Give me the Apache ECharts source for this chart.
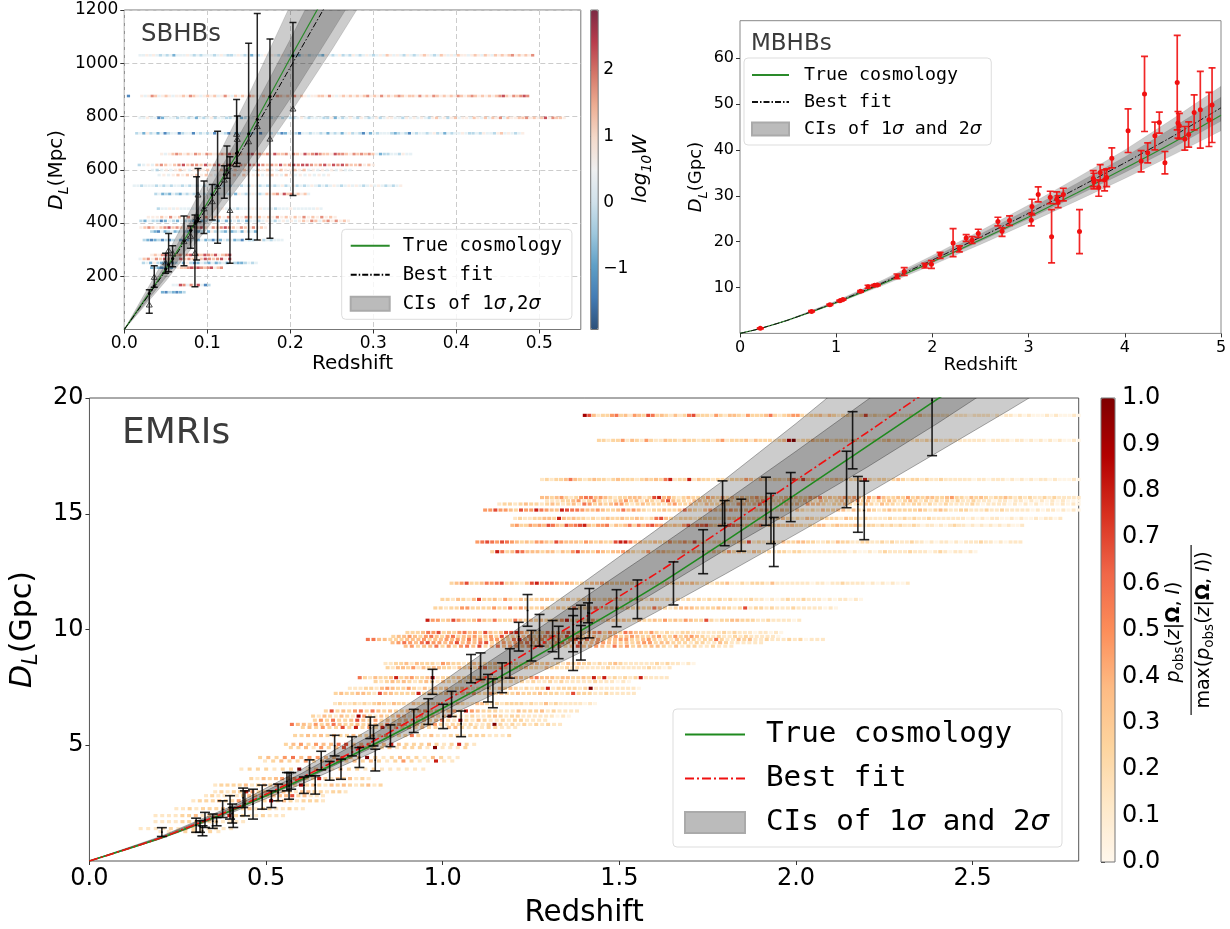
<!DOCTYPE html>
<html>
<head>
<meta charset="utf-8">
<title>Hubble diagrams</title>
<script src="https://cdn.jsdelivr.net/npm/echarts@6/dist/echarts.min.js"></script>
<style>
  html, body { margin: 0; padding: 0; background: #fff; }
  #chart { width: 1230px; height: 929px; }
</style>
</head>
<body>
<div id="chart"></div>
<script>
// ---- tick labels
const sbXTicks = [0, 0.1, 0.2, 0.3, 0.4, 0.5];
const sbYTicks = [200, 400, 600, 800, 1000, 1200];
const sbBarTicks = [-1, 0, 1, 2];
const mbXTicks = [0, 1, 2, 3, 4, 5];
const mbYTicks = [10, 20, 30, 40, 50, 60];
const emXTicks = [0, 0.5, 1, 1.5, 2, 2.5];
const emYTicks = [5, 10, 15, 20];
const emBarTicks = [0, 0.1, 0.2, 0.3, 0.4, 0.5, 0.6, 0.7, 0.8, 0.9, 1];

// ---- SBHBs cosmology curves (Mpc)
const sbCurveZ = [0, 0.05, 0.1, 0.15, 0.2, 0.25, 0.3];
const sbTrue = [0, 228, 475, 735, 1020, 1300, 1600];
const sbBest = [0, 222, 461, 715, 985, 1258, 1550];
const sbHi2 = [0, 274, 570, 882, 1218, 1560, 1900];
const sbHi1 = [0, 246, 513, 794, 1090, 1400, 1720];
const sbLo1 = [0, 196, 408, 632, 868, 1117, 1370];
const sbLo2 = [0, 182, 380, 588, 812, 1050, 1300];

// ---- SBHBs events
const sbZ = [0.0301, 0.0361, 0.0498, 0.0534, 0.0582, 0.0719, 0.0799, 0.0851, 0.0871, 0.0888, 0.096, 0.106, 0.1124, 0.1205, 0.1237, 0.1273, 0.1353, 0.1361, 0.1498, 0.1602, 0.1755, 0.2032];
const sbMid = [135, 163, 227, 244, 267, 334, 373, 400, 410, 418, 456, 506, 540, 582, 600, 618, 662, 666, 735, 790, 875, 1028];
const sbObs = [92, 196, 250, 296, 285, 330, 350, 286, 420, 505, 453, 480, 537, 561, 593, 447, 733, 714, 705, 762, 715, 828];
const sbLow = [61, 159, 211, 217, 236, 239, 305, 161, 261, 405, 361, 411, 324, 493, 568, 249, 612, 624, 339, 336, 343, 503];
const sbHigh = [149, 239, 286, 361, 315, 426, 389, 430, 574, 605, 558, 545, 745, 615, 689, 649, 864, 802, 1075, 1187, 1091, 1153];

// ---- SBHBs host candidates, one row per event: D_L, z range, weights along the row
const sbRowD = [1030, 877, 795, 737, 659, 618, 599, 580, 540, 509, 454, 422, 408, 383, 368, 336, 280, 265, 250, 232, 167, 140];
const sbRowZ0 = [0.019, 0.021, 0.019, 0.015, 0.045, 0.018, 0.034, 0.042, 0.012, 0.038, 0.041, 0.029, 0.02, 0.02, 0.033, 0.024, 0.033, 0.019, 0.023, 0.033, 0.059, 0.046];
const sbRowZ1 = [0.492, 0.486, 0.53, 0.48, 0.345, 0.3, 0.272, 0.246, 0.333, 0.222, 0.237, 0.254, 0.27, 0.17, 0.158, 0.19, 0.127, 0.127, 0.159, 0.117, 0.102, 0.072];
const sbRowW = [
  '4454543434 2444543434 4434543345 4342434545 4354343245 3443254345 3435434543 4546545435 4345654346 5454655456 5465465656 7565657',
  '5457645654 5565765456 5645754656 5765465657 6565756545 5665754565 6565675657 5656765665 7565765656 5765676565 6567865767 87',
  '4454412444 3443424345 3443344234 4544434434 3345434443 3524345435 4345345544 3545454356 4535645546 5464657465 5667565685 7665',
  '3425342413 4413441434 3414431423 4423414434 3124431443 4434243424 5343142434 4432343143 4434534243 4454334354 4356454345',
  '5456765657 6576567686 7657867675 8667576586 7876658776 5767676423 3443544',
  '3454676567 8677686786 8767687876 7686787887 6786878766 7565',
  '4345456545 6564565465 6546565465 5656454545 4544',
  '4545656565 6545656465 5645654654 5454545',
  '4434443434 3443434343 4434343443 4354343434 5345343454 3434543454 5434545434 345',
  '3423243243 4324342434 4342543454 3465675867 56564',
  '3445454444 4434454544 4344454544 4344454444 4454',
  '5556575657 5657566575 6576565657 5656575657 565',
  '3243312432 4332423432 4234342443 4543454545 6576467575 65',
  '5676567867 6576786576 7876576575 65',
  '3214234234 3243234253 4324234253 42',
  '3212313134 2124324231 3243423143 3453434 44',
  '5657865675 7867687685 678',
  '4675768675 8676568767 858',
  '3425321423 4253124324 2342532234 34',
  '2321232456 6787876785 67',
  '4487475841 3',
  '2132123'
];

// ---- MBHBs cosmology curves (Gpc)
const mbCurveZ = [0, 0.2, 0.5, 1, 1.5, 2, 2.5, 3, 3.5, 4, 4.5, 5];
const mbTrue = [0, 1, 2.9, 6.7, 11, 15.6, 20.4, 25.4, 30.6, 36, 41.6, 47.6];
const mbBest = [0, 1, 2.9, 6.8, 11.2, 16, 21, 26.2, 31.6, 37.2, 43, 49.2];
const mbHi2 = [0, 1, 3, 7.1, 11.8, 17, 22.4, 28, 33.9, 40, 46.8, 53.9];
const mbHi1 = [0, 1, 2.95, 6.95, 11.5, 16.5, 21.7, 27.1, 32.7, 38.5, 44.9, 51.5];
const mbLo1 = [0, 1, 2.9, 6.65, 10.9, 15.4, 20.1, 25, 30, 35.1, 40.5, 46.3];
const mbLo2 = [0, 0.95, 2.8, 6.5, 10.6, 14.9, 19.4, 24.1, 28.9, 33.8, 38.9, 44.2];

// ---- MBHBs events
const mbZ = [0.211, 0.744, 0.934, 1.038, 1.07, 1.253, 1.331, 1.399, 1.428, 1.632, 1.707, 1.922, 1.99, 2.08, 2.215, 2.28, 2.351, 2.412, 2.477, 2.681, 2.724, 2.802, 3.028, 3.035, 3.1, 3.225, 3.239, 3.293, 3.307, 3.361, 3.529, 3.672, 3.679, 3.729, 3.744, 3.79, 3.812, 3.865, 4.034, 4.17, 4.205, 4.238, 4.313, 4.359, 4.417, 4.545, 4.553, 4.567, 4.624, 4.664, 4.721, 4.785, 4.875, 4.907];
const mbMid = [1.1, 4.8, 6.26, 7.1, 7.4, 9.2, 10.2, 10.5, 10.55, 12.4, 13.5, 14.8, 15.1, 17.2, 19.7, 18.5, 20.8, 20.3, 21.8, 24.4, 22.3, 24.6, 24.7, 27.7, 30.3, 29.7, 21.1, 29.3, 28.7, 30.3, 22.2, 33.8, 33.1, 31.8, 35.1, 33.5, 34, 38.2, 44.2, 37.6, 52.2, 39.4, 43.1, 46, 37.2, 54.7, 45.9, 45.3, 42.4, 43.4, 48.2, 48.8, 46.6, 49.8];
const mbLow = [1, 4.7, 6.1, 7, 7.25, 9, 9.85, 10.3, 10.4, 11.94, 12.66, 14.26, 14.19, 16.38, 16.74, 17.76, 20.09, 19.65, 20.96, 23.44, 21.18, 23.58, 23.44, 25.84, 28.68, 28.31, 15.36, 28.24, 27.44, 28.89, 17.39, 32.02, 31.51, 29.91, 33.26, 31.08, 32.02, 36.1, 39.45, 35.23, 44.03, 37.19, 40.03, 43.67, 34.79, 44.4, 42.58, 42.4, 39.96, 40.61, 44.4, 40.39, 40.76, 41.63];
const mbHigh = [1.2, 4.95, 6.4, 7.25, 7.55, 9.35, 10.5, 10.65, 10.7, 12.95, 14.34, 15.28, 15.87, 17.69, 22.85, 19.07, 21.54, 21.11, 22.71, 25.33, 23, 25.62, 26.2, 29.26, 31.95, 31, 27, 30.86, 29.99, 31.66, 27, 35.52, 34.93, 33.48, 36.83, 35.66, 35.88, 40.47, 48.98, 39.88, 60.41, 41.56, 46.07, 48.25, 39.67, 64.99, 48.4, 48, 45.12, 46.14, 52.04, 57.13, 52.55, 57.93];

// ---- EMRIs cosmology curves (Gpc)
const emCurveZ = [0, 0.2, 0.4, 0.6, 0.8, 1, 1.2, 1.4, 1.6, 1.8, 2, 2.2, 2.4, 2.6, 2.8];
const emTrue = [0, 0.98, 2.17, 3.52, 5, 6.6, 8.28, 10.03, 11.84, 13.82, 15.85, 17.9, 19.95, 22, 24.1];
const emBest = [0, 0.99, 2.2, 3.6, 5.15, 6.85, 8.65, 10.5, 12.38, 14.4, 16.45, 18.5, 20.6, 22.7, 24.9];
const emHi2 = [0, 1.05, 2.35, 3.95, 5.75, 7.75, 9.9, 12.05, 14.25, 16.5, 18.9, 21.4, 23.9, 26.4, 29];
const emHi1 = [0, 1.02, 2.28, 3.78, 5.45, 7.3, 9.3, 11.38, 13.44, 15.55, 17.7, 19.9, 22.1, 24.3, 26.6];
const emLo1 = [0, 0.97, 2.13, 3.45, 4.9, 6.45, 8.08, 9.8, 11.6, 13.45, 15.2, 17, 18.9, 20.9, 23];
const emLo2 = [0, 0.95, 2.07, 3.32, 4.68, 6.15, 7.6, 9.08, 10.72, 12.4, 14.12, 15.86, 17.65, 19.45, 21.3];

// ---- EMRIs events
const emZ = [0.205, 0.302, 0.313, 0.32, 0.327, 0.349, 0.36, 0.377, 0.398, 0.404, 0.407, 0.435, 0.44, 0.463, 0.489, 0.515, 0.534, 0.559, 0.565, 0.571, 0.607, 0.623, 0.639, 0.656, 0.68, 0.694, 0.712, 0.743, 0.764, 0.795, 0.804, 0.809, 0.852, 0.918, 0.959, 0.971, 1.001, 1.025, 1.052, 1.08, 1.107, 1.128, 1.142, 1.168, 1.19, 1.215, 1.24, 1.251, 1.274, 1.311, 1.328, 1.369, 1.369, 1.391, 1.391, 1.411, 1.415, 1.492, 1.551, 1.653, 1.737, 1.792, 1.798, 1.845, 1.915, 1.929, 1.937, 1.985, 2.143, 2.16, 2.175, 2.193, 2.385];
const emLow = [1.06, 1.24, 1.24, 1.09, 1.45, 1.41, 1.52, 1.88, 1.81, 1.64, 1.45, 2.31, 1.95, 1.81, 2.24, 2.31, 2.6, 3.03, 2.67, 3.1, 2.92, 3.68, 2.89, 3.94, 3.49, 4.54, 3.53, 4.54, 4.04, 5.29, 4.97, 3.89, 4.94, 5.55, 5.9, 7.2, 5.72, 6.24, 5.37, 7.7, 7.84, 6.87, 6.62, 7.27, 7.9, 9.07, 10.14, 8.64, 9.28, 9.04, 8.74, 9.04, 8.23, 9.61, 8.68, 10.29, 9.64, 10.12, 10.47, 11.06, 12.41, 14.48, 13.62, 13.38, 14.5, 13.71, 12.72, 14.66, 15.26, 16.94, 14.2, 13.88, 17.51];
const emHigh = [1.44, 1.85, 1.74, 1.52, 2.1, 2.03, 1.88, 2.6, 2.82, 2.46, 2.31, 3.15, 3.03, 3.1, 3.28, 3.03, 3.32, 3.82, 3.82, 3.82, 3.63, 4.37, 3.68, 4.74, 4.3, 5.43, 4.4, 5.37, 4.9, 6.22, 5.86, 4.83, 5.88, 6.55, 7.01, 8.28, 6.77, 7.33, 6.48, 8.92, 8.99, 8.06, 7.87, 8.56, 9.17, 10.31, 11.51, 9.96, 10.65, 10.39, 10.14, 10.89, 10.6, 11.05, 10.17, 11.15, 11.77, 11.72, 12.14, 12.92, 14.31, 16.42, 15.57, 15.63, 16.58, 15.88, 14.84, 16.78, 17.7, 19.41, 16.61, 16.41, 22.3];

// ---- EMRIs host candidates
const emRowD = [19.25, 18.17, 16.48, 15.7, 15.56, 15.42, 15.16, 14.8, 14.5, 13.78, 13.36, 12, 11.3, 10.93, 10.4, 9.87, 9.7, 9.57, 9.43, 9.28, 8.53, 8.35, 7.92, 7.75, 7.46, 7.24, 6.8, 6.48, 6.26, 6.08, 5.9, 5.77, 5.42, 5.04, 4.9, 4.47, 4.32, 3.97, 3.56, 3.28, 2.99, 2.82, 2.6, 2.26, 1.96, 1.7, 1.4, 1.27];
const emRowZ0 = [1.402, 1.442, 1.281, 1.281, 1.295, 1.16, 1.12, 1.205, 1.197, 1.098, 1.14, 1.025, 0.999, 0.979, 0.957, 0.9, 0.86, 0.788, 0.858, 0.895, 0.838, 0.844, 0.765, 0.81, 0.737, 0.697, 0.695, 0.669, 0.633, 0.638, 0.573, 0.604, 0.582, 0.556, 0.57, 0.483, 0.497, 0.43, 0.458, 0.356, 0.356, 0.33, 0.294, 0.246, 0.187, 0.187, 0.145, 0.201];
const emRowZ1 = [2.8, 2.8, 2.8, 2.8, 2.8, 2.8, 2.8, 2.748, 2.64, 2.635, 2.508, 2.316, 2.184, 2.113, 2.009, 1.958, 1.95, 2.076, 1.901, 1.817, 1.71, 1.642, 1.634, 1.527, 1.555, 1.541, 1.431, 1.38, 1.357, 1.29, 1.332, 1.205, 1.188, 1.089, 1.064, 1.042, 1.027, 0.945, 0.79, 0.824, 0.725, 0.661, 0.661, 0.604, 0.548, 0.435, 0.401, 0.365];
const emRowW = [
  '8631224523 1432652321 3125622214 2133214222 3521234421 2231321221 1261211211 1121311111 1011101111 0101101010 0010100010',
  '2212241321 4211322132 2122134122 2313222123 8912232231 2221312121 2312211212 1211211111 1101111011 0101010100 10',
  '1212235321 2322123222 1232325712 2713221221 2224313212 2136262321 2232122372 1221232122 1211211111 1011011101 0101011010 0010',
  '3323421245 5343212233 3126734212 3222432423 2323423312 3432243523 2343432425 3223242323 3223422132 3212232121 2112121111 1',
  '1112234124 2112342313 2146322133 2212321232 3412232123 2132123234 2312232123 2121212121 1211101101 1010101010 00',
  '1221232212 3212315423 2344212322 2134223213 2232143235 3212323143 3212232123 2132212122 1211211112 1011110101 0100101010',
  '4464432644 7543376554 3343223534 3212232235 3213432343 2322342132 1321213223 3132132123 2222232123 2112211121 1211111010 1101010',
  '1211223327 3232212123 2232232125 6321222122 2211322222 2211232121 3212222132 2121111211 2121121111 1110101011 0010100101 101',
  '3422434365 3264567324 4513235253 5644323246 3556324265 4232351323 2332212233 1232223212 2121212112 1011010121 1010101010 1001',
  '4565465432 3244326433 3243232267 7533223224 2342622122 2223261211 2132233221 1213221122 1121211121 1010110101 1121101011 1',
  '2752365333 2331324633 2432334321 2413322142 3312322423 2132121221 2211111111 1010010121 1112111012 1011010 ',
  '2346223545 6232136745 5434322233 4322232211 2223223232 1212231121 2221311111 1101101121 1110101010 01',
  '2213213622 3142132223 3212312232 1232213221 3212121212 1212121112 1101012112 1110101 1010',
  '2212244222 2422524322 3213225223 5233423232 2532123332 2223221261 2212111211 1110 10',
  '7442364323 5325222532 3232224722 2242133232 1322324232 4322621223 3222112111 101',
  '2223546232 4534263236 6743322533 4633234524 3254332421 2112211111 1212111011 010',
  '2334324532 4523342342 6322342344 3263423312 3423432234 2242343211 2112121111 10',
  '5533222333 4233434353 4244325734 3423424635 3423344223 4212132321 2252113231 1211121201 11',
  '3454356443 4634356234 3445335245 3362344332 3234423322 2122113211 1111',
  '3423352424 5362353443 4352442363 3432534232 3321312211 2111',
  '1122313222 1432212322 2322321233 2312132322 1212321111 1121211010',
  '2133241323 3221323245 2232132322 1322121211 1112111111 121101',
  '5213223723 4223812223 2232432224 3324533323 3223272712 1212711111',
  '2123232123 2132121212 2321212121 1212111112 111010',
  '1112213432 2421313231 2321212132 3212122712 2221291111 11110',
  '2322332163 3222272322 3322442242 3223222322 2126222112 11111',
  '1211212123 2132213222 2312132113 3212122221 2113121111 1010',
  '2623245253 2322333423 3342743222 1113222312 1111',
  '2132132184 2132243123 2323921121 1232122111 111010',
  '2425223632 4232232332 3521821321 1212211 11',
  '5332423532 2323325243 2323421221 2112921212 1212 11',
  '2324226272 4272324232 2133212122 111',
  '2232323223 2232422252 1311221222 1112 ',
  '2342433563 3423732223 2127 21',
  '2231423626 3223122219 1112',
  '2324534433 5339212322 1321 1',
  '1232242325 2323212421 1711',
  '1222122912 2132212111 111',
  '2132343432 2721323121',
  '1222231232 4232823213 2321 2312',
  '1212274232 3321332212 21',
  '1211112332 2333623 111',
  '1222322432 1282321222 1',
  '1121222321 2312211211',
  '1111223121 1722112111',
  '1111222122 1111',
  '1111212211 111',
  '1112212 1'
];

// ---- decoding of the single-digit weights
const sbWeight = d => -1.9 + d * 0.53;
const emWeight = d => d / 9 + 0.02;

const SANS = '"DejaVu Sans"';
const MONO = '"DejaVu Sans Mono"';

function rowsToPoints(rowD, rowZ0, rowZ1, rowW, decode) {
  const pts = [];
  rowD.forEach(function (d, r) {
    const w = rowW[r].replace(/\s/g, '');
    w.split('').forEach(function (c, i) {
      pts.push([rowZ0[r] + (rowZ1[r] - rowZ0[r]) * i / (w.length - 1), d, decode(+c)]);
    });
  });
  return pts;
}

function curve(name, ax, zs, ds, color, width, dash) {
  return {
    name: name, type: 'line', xAxisIndex: ax, yAxisIndex: ax, z: 3,
    showSymbol: false, symbol: 'none', smooth: 0.2, silent: true, clip: true,
    lineStyle: { color: color, width: width, type: dash || 'solid' },
    itemStyle: { color: color },
    data: zs.map((z, i) => [z, ds[i]])
  };
}

// confidence band as one polygon, placed through the axes
function band(name, ax, zs, lo, hi, edge) {
  const rows = zs.map((z, i) => [z, lo[i], hi[i]]);
  return {
    name: name, type: 'custom', xAxisIndex: ax, yAxisIndex: ax, z: 2, clip: true, silent: true,
    encode: { x: 0, y: [1, 2] },
    itemStyle: { color: '#bbb', borderColor: '#aaa', borderWidth: 1 },
    data: rows,
    renderItem: function (params, api) {
      if (params.dataIndex !== 0) return null;
      const top = rows.map(r => api.coord([r[0], r[2]]));
      const bottom = rows.map(r => api.coord([r[0], r[1]])).reverse();
      return {
        type: 'polygon',
        shape: { points: top.concat(bottom) },
        style: { fill: 'rgba(0,0,0,0.2)', stroke: 'rgba(0,0,0,' + edge + ')', lineWidth: 1 }
      };
    }
  };
}

function errorBars(ax, zs, low, high, mid, obs, opt) {
  return {
    type: 'custom', xAxisIndex: ax, yAxisIndex: ax, z: 4, clip: true, silent: true,
    encode: { x: 0, y: [1, 2] },
    data: zs.map((z, i) => [z, low[i], high[i], mid ? mid[i] : (low[i] + high[i]) / 2, obs ? obs[i] : NaN]),
    renderItem: function (params, api) {
      const z = api.value(0);
      const a = api.coord([z, api.value(1)]);
      const b = api.coord([z, api.value(2)]);
      const m = api.coord([z, api.value(3)]);
      const line = { stroke: opt.color, lineWidth: opt.width, opacity: opt.alpha };
      const kids = [
        { type: 'line', shape: { x1: a[0], y1: a[1], x2: b[0], y2: b[1] }, style: line },
        { type: 'line', shape: { x1: a[0] - opt.cap, y1: a[1], x2: a[0] + opt.cap, y2: a[1] }, style: line },
        { type: 'line', shape: { x1: b[0] - opt.cap, y1: b[1], x2: b[0] + opt.cap, y2: b[1] }, style: line },
        { type: 'circle', shape: { cx: m[0], cy: m[1], r: opt.dot }, style: { fill: opt.color } }
      ];
      const v = api.value(4);
      if (!isNaN(v)) {
        const t = api.coord([z, v]);
        kids.push({
          type: 'polygon',
          shape: { points: [[t[0], t[1] - 3], [t[0] - 3, t[1] + 2], [t[0] + 3, t[1] + 2]] },
          style: { fill: 'none', stroke: '#222', lineWidth: 0.8 }
        });
      }
      return { type: 'group', children: kids };
    }
  };
}

function strips(ax, pts, w, h) {
  return {
    type: 'scatter', xAxisIndex: ax, yAxisIndex: ax, z: 1, silent: true,
    symbol: 'rect', symbolSize: [w, h], data: pts,
    encode: { x: 0, y: 1 }, itemStyle: { opacity: 1 }
  };
}

function xAxis(i, min, max, ticks, digits, size, gapName, nameSize) {
  return {
    gridIndex: i, type: 'value', min: min, max: max,
    name: 'Redshift', nameLocation: 'middle', nameGap: gapName,
    nameTextStyle: { fontFamily: SANS, fontSize: nameSize, color: '#000' },
    axisLine: { show: false },
    axisTick: { length: 4, customValues: ticks, lineStyle: { color: '#333' } },
    axisLabel: {
      customValues: ticks, fontFamily: SANS, fontSize: size, color: '#000', margin: 6,
      hideOverlap: false, formatter: v => v.toFixed(digits)
    },
    splitLine: { show: false }
  };
}

function yAxis(i, min, max, ticks, size, name, gapName, fonts) {
  return {
    gridIndex: i, type: 'value', min: min, max: max,
    name: name, nameLocation: 'middle', nameGap: gapName, nameRotate: 90,
    nameTextStyle: {
      rich: {
        d: { fontFamily: SANS, fontStyle: 'italic', color: '#000', fontSize: fonts[0], lineHeight: fonts[0] + 8 },
        l: { fontFamily: SANS, fontStyle: 'italic', color: '#000', fontSize: fonts[1], lineHeight: fonts[1] + 2, verticalAlign: 'bottom' },
        n: { fontFamily: SANS, color: '#000', fontSize: fonts[0], lineHeight: fonts[0] + 8 }
      }
    },
    axisLine: { show: false },
    axisTick: { length: 4, customValues: ticks, lineStyle: { color: '#333' } },
    axisLabel: { customValues: ticks, fontFamily: SANS, fontSize: size, color: '#000', margin: 6, formatter: v => String(v) },
    splitLine: { show: false }
  };
}

function legendBox(names, left, top, font, itemW, itemH, gap, pad, textPad) {
  return {
    show: true, orient: 'vertical', left: left, top: top, padding: pad, itemGap: gap,
    itemWidth: itemW, itemHeight: itemH, selectedMode: false,
    backgroundColor: 'rgba(255,255,255,0.8)', borderColor: '#ddd', borderWidth: 1, borderRadius: 4,
    data: [
      { name: names[0], itemStyle: { opacity: 0 } },
      { name: names[1], itemStyle: { opacity: 0 } },
      { name: names[2], icon: 'rect' }
    ],
    formatter: function (n) {
      const label = n.split('|')[1];
      return label.split('σ').map(p => '{m|' + p + '}').join('{s|σ}');
    },
    textStyle: {
      rich: {
        m: { fontFamily: MONO, fontSize: font, color: '#000' },
        s: { fontFamily: SANS, fontStyle: 'italic', fontSize: font, color: '#000' }
      },
      padding: [0, 0, 0, textPad]
    }
  };
}

const SB = 'S|', MB = 'M|', EM = 'E|';
const sbPts = rowsToPoints(sbRowD, sbRowZ0, sbRowZ1, sbRowW, sbWeight);
sbPts.push([0.005, 877, sbWeight(1)]);
const emPts = rowsToPoints(emRowD, emRowZ0, emRowZ1, emRowW, emWeight);

const option = {
  animation: false,
  backgroundColor: '#fff',
  grid: [
    { left: 124.3, top: 10, width: 456.5, height: 319.5, show: true, borderColor: '#777', borderWidth: 1, backgroundColor: 'transparent' },
    { left: 740, top: 20.7, width: 481, height: 312.7, show: true, borderColor: '#888', borderWidth: 1, backgroundColor: 'transparent' },
    { left: 85.7, top: 398, width: 993, height: 464, show: true, borderColor: '#555', borderWidth: 1, backgroundColor: 'transparent' },
    { left: 590.7, top: 10, width: 7.5, height: 319.5, show: true, borderColor: '#777', borderWidth: 1, backgroundColor: 'transparent', z: 6 },
    { left: 1101, top: 398, width: 14, height: 464, show: true, borderColor: '#777', borderWidth: 1, backgroundColor: 'transparent', z: 6 }
  ],
  xAxis: [
    Object.assign(xAxis(0, 0, 0.55, sbXTicks, 1, 17, 19, 20), {
      splitLine: { show: true, lineStyle: { color: '#ccc', type: [5, 3], width: 1 } }
    }),
    xAxis(1, 0, 5, mbXTicks, 0, 16, 19, 18.2),
    xAxis(2, 0, 2.8, emXTicks, 1, 24, 38, 29.4),
    { gridIndex: 3, type: 'value', show: false, min: 0, max: 1 },
    { gridIndex: 4, type: 'value', show: false, min: 0, max: 1 }
  ],
  yAxis: [
    Object.assign(yAxis(0, 0, 1200, sbYTicks, 17, '{d|D}{l|L}{n|(Mpc)}', 40, [20, 14]), {
      splitLine: { show: true, lineStyle: { color: '#ccc', type: [5, 3], width: 1 } }
    }),
    yAxis(1, 0, 68.2, mbYTicks, 16, '{d|D}{l|L}{n|(Gpc)}', 16, [18, 13]),
    yAxis(2, 0, 20, emYTicks, 24, '{d|D}{l|L}{n|(Gpc)}', 43, [30, 21]),
    {
      gridIndex: 3, type: 'value', position: 'right', min: -1.91, max: 2.9,
      axisLine: { show: false }, splitLine: { show: false },
      axisTick: { length: 3, customValues: sbBarTicks, lineStyle: { color: '#333' } },
      axisLabel: {
        customValues: sbBarTicks, fontFamily: SANS, fontSize: 17, color: '#000', margin: 5,
        formatter: v => (v < 0 ? '\u2212' + Math.abs(v) : '' + v)
      }
    },
    {
      gridIndex: 4, type: 'value', position: 'right', min: 0, max: 1,
      axisLine: { show: false }, splitLine: { show: false },
      axisTick: { length: 4, customValues: emBarTicks, lineStyle: { color: '#333' } },
      axisLabel: {
        customValues: emBarTicks, fontFamily: SANS, fontSize: 24, color: '#000', margin: 7,
        formatter: v => v.toFixed(1)
      }
    }
  ],
  visualMap: [
    {
      type: 'continuous', seriesIndex: 0, dimension: 2, min: -1.91, max: 2.9, calculable: false,
      left: 590.7, top: 10, itemWidth: 7.5, itemHeight: 319.5, padding: 0, text: null, showLabel: false, hoverLink: false, z: 1,
      inRange: { color: ['rgba(5,48,97,.8)', 'rgba(33,102,172,.8)', 'rgba(67,147,195,.8)', 'rgba(146,197,222,.8)', 'rgba(209,229,240,.8)', 'rgba(247,247,247,.8)', 'rgba(253,219,199,.8)', 'rgba(244,165,130,.8)', 'rgba(214,96,77,.8)', 'rgba(178,24,43,.8)', 'rgba(103,0,31,.8)'] }
    },
    {
      type: 'continuous', seriesIndex: 1, dimension: 2, min: 0, max: 1, calculable: false,
      left: 1101, top: 398, itemWidth: 14, itemHeight: 464, padding: 0, text: null, showLabel: false, hoverLink: false, z: 1,
      inRange: { color: ['#fff7ec', '#fee8c8', '#fdd49e', '#fdbb84', '#fc8d59', '#ef6548', '#d7301f', '#b30000', '#7f0000'] }
    }
  ],
  legend: [
    legendBox([SB + 'True cosmology', SB + 'Best fit', SB + 'CIs of 1σ,2σ'], 341.7, 229.3, 18.9, 39, 14, 10, [7, 10, 6, 8], 8),
    legendBox([MB + 'True cosmology', MB + 'Best fit', MB + 'CIs of 1σ and 2σ'], 744, 58, 18.3, 37, 13, 9, [8, 10, 7, 7], 10),
    legendBox([EM + 'True cosmology', EM + 'Best fit', EM + 'CIs of 1σ and 2σ'], 673, 709, 29.2, 60, 21, 15, [11, 13, 10, 11], 16)
  ],
  series: [
    strips(0, sbPts, 3.2, 2.6),
    strips(2, emPts, 4, 3.2),
    band(SB + 'CIs of 1σ,2σ', 0, sbCurveZ, sbLo2, sbHi2, 0.12),
    band(SB + '1s', 0, sbCurveZ, sbLo1, sbHi1, 0.12),
    curve(SB + 'True cosmology', 0, sbCurveZ, sbTrue, '#2a8a2a', 1.2),
    curve(SB + 'Best fit', 0, sbCurveZ, sbBest, '#000', 1, [6, 2, 1.5, 2]),
    errorBars(0, sbZ, sbLow, sbHigh, sbMid, sbObs, { color: '#000', width: 1.5, cap: 3.5, dot: 1.5, alpha: 0.85 }),
    band(MB + 'CIs of 1σ and 2σ', 1, mbCurveZ, mbLo2, mbHi2, 0.08),
    band(MB + '1s', 1, mbCurveZ, mbLo1, mbHi1, 0.08),
    curve(MB + 'True cosmology', 1, mbCurveZ, mbTrue, '#2a8a2a', 1.1),
    curve(MB + 'Best fit', 1, mbCurveZ, mbBest, '#111', 1, [6, 2, 1.5, 2]),
    errorBars(1, mbZ, mbLow, mbHigh, mbMid, null, { color: '#f01010', width: 1.7, cap: 3.5, dot: 2.5, alpha: 0.9 }),
    band(EM + 'CIs of 1σ and 2σ', 2, emCurveZ, emLo2, emHi2, 0.3),
    band(EM + '1s', 2, emCurveZ, emLo1, emHi1, 0.3),
    curve(EM + 'True cosmology', 2, emCurveZ, emTrue, '#1f8a1f', 1.6),
    curve(EM + 'Best fit', 2, emCurveZ, emBest, '#f01010', 1.6, [9, 3, 2, 3]),
    errorBars(2, emZ, emLow, emHigh, null, null, { color: '#000', width: 1.6, cap: 5, dot: 0.9, alpha: 0.85 })
  ],
  graphic: [
    { type: 'text', left: 141, top: 23, style: { text: 'SBHBs', fontFamily: SANS, fontSize: 24.4, fill: '#3b3b3b' } },
    { type: 'text', left: 751, top: 33, style: { text: 'MBHBs', fontFamily: SANS, fontSize: 23, fill: '#3b3b3b' } },
    { type: 'text', left: 122, top: 416, style: { text: 'EMRIs', fontFamily: SANS, fontSize: 36, fill: '#3b3b3b' } },
    {
      type: 'text', x: 641, y: 169, rotation: Math.PI / 2,
      style: {
        text: '{a|log}{b|10}{a|W}', align: 'center', verticalAlign: 'middle',
        rich: {
          a: { fontFamily: SANS, fontStyle: 'italic', fontSize: 20, lineHeight: 26 },
          b: { fontFamily: SANS, fontStyle: 'italic', fontSize: 14, lineHeight: 16, verticalAlign: 'bottom' }
        }
      }
    },
    {
      type: 'text', x: 1174, y: 632, rotation: Math.PI / 2,
      style: {
        text: '{i|p}{s|obs}{n|(}{i|z}{n||}{o|Ω}{n|, }{i|I}{n|)}', align: 'center', verticalAlign: 'middle',
        rich: {
          i: { fontFamily: SANS, fontStyle: 'italic', fontSize: 19, lineHeight: 25 },
          n: { fontFamily: SANS, fontSize: 19, lineHeight: 25 },
          o: { fontFamily: SANS, fontWeight: 'bold', fontSize: 19, lineHeight: 25 },
          s: { fontFamily: SANS, fontSize: 13.5, lineHeight: 16, verticalAlign: 'bottom' }
        }
      }
    },
    {
      type: 'text', x: 1204, y: 630, rotation: Math.PI / 2,
      style: {
        text: '{n|max(}{i|p}{s|obs}{n|(}{i|z}{n||}{o|Ω}{n|, }{i|I}{n|))}', align: 'center', verticalAlign: 'middle',
        rich: {
          i: { fontFamily: SANS, fontStyle: 'italic', fontSize: 19, lineHeight: 25 },
          n: { fontFamily: SANS, fontSize: 19, lineHeight: 25 },
          o: { fontFamily: SANS, fontWeight: 'bold', fontSize: 19, lineHeight: 25 },
          s: { fontFamily: SANS, fontSize: 13.5, lineHeight: 16, verticalAlign: 'bottom' }
        }
      }
    },
    { type: 'rect', left: 1190.5, top: 545, shape: { x: 0, y: 0, width: 1.2, height: 170 }, style: { fill: '#111' } }
  ]
};

const chart = echarts.init(document.getElementById('chart'), null, { renderer: 'canvas' });
chart.setOption(option);
</script>
</body>
</html>
